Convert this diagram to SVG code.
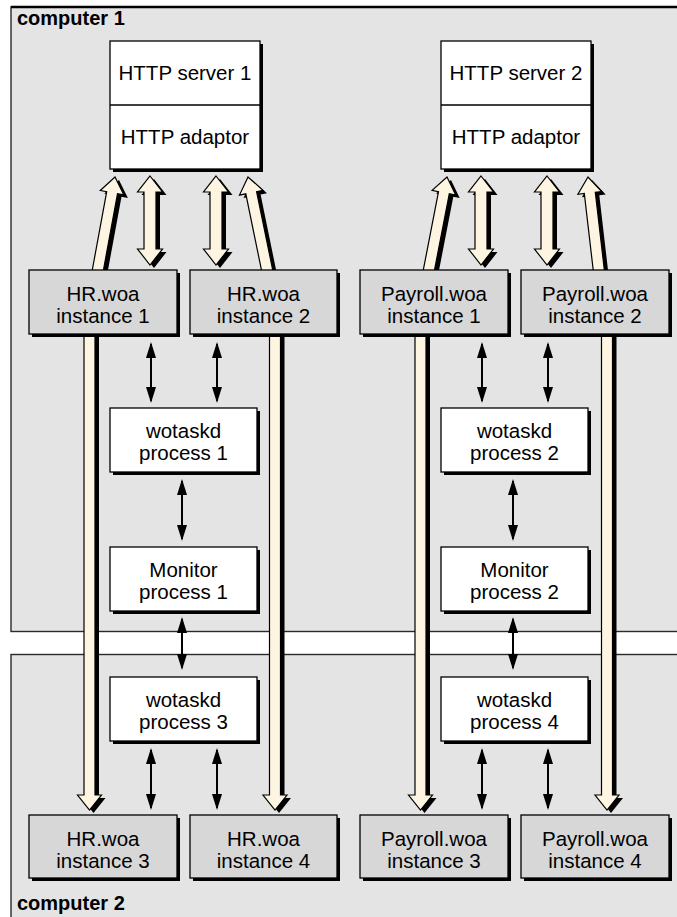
<svg xmlns="http://www.w3.org/2000/svg" xmlns:xlink="http://www.w3.org/1999/xlink" width="677" height="917" viewBox="0 0 677 917">
  <style>
    .machine { fill: #e4e4e4; stroke: #2a2a2a; stroke-width: 1.4; }
    .shadow { fill: #000; }
    .box { fill: #ffffff; stroke: #000; stroke-width: 1.3; }
    .inst { fill: #d7d7d7; stroke: #000; stroke-width: 1.3; }
    .lbl { font-family: "Liberation Sans", Arial, Helvetica, sans-serif; font-size: 20.5px; text-anchor: middle; fill: #000; }
    .title { font-family: "Liberation Sans", Arial, Helvetica, sans-serif; font-size: 20px; font-weight: bold; fill: #000; }
    .pipe { fill: #fdf5e1; stroke: #000; stroke-width: 1.2; stroke-linejoin: miter; }
    .link { stroke: #000; stroke-width: 2; fill: none; marker-start: url(#head); marker-end: url(#head); }
  </style>
  <defs>
    <marker id="head" viewBox="0 0 16 10" refX="14" refY="5" markerWidth="16" markerHeight="10" markerUnits="userSpaceOnUse" orient="auto-start-reverse">
      <path d="M0,0 L16,5 L0,10 z" fill="#000"/>
    </marker>
    <!-- two-way pipe between an instance and the adaptor, centred on x=0 -->
    <polygon id="dbl" points="0,176 12.5,192 6,192 6,249 12.5,249 0,265 -12.5,249 -6,249 -6,192 -12.5,192"/>
    <!-- slanted request pipes up to the adaptors -->
    <polygon id="upA" points="102.9,273 117.5,193.7 123.9,194.9 115,177 100.3,190.5 106.7,191.7 92.1,271"/>
    <polygon id="upB" points="272.9,270.9 256.6,191.6 263,190.3 248,177 239.5,195.1 245.8,193.8 262.1,273.1"/>
    <polygon id="upC" points="433.9,273.1 449.3,193.8 455.7,195 447,177 432.1,190.4 438.5,191.7 423.1,271"/>
    <polygon id="upD" points="604.5,271.4 595.3,192.3 601.7,191.5 588,177 577.9,194.3 584.3,193.5 593.5,272.6"/>
    <!-- long pipes down to the instances on computer 2 -->
    <polygon id="downA" points="84,333 95,333 95,795 101.5,795 89.5,810 77.5,795 84,795"/>
    <polygon id="downB" points="269.5,333 280.5,333 280.5,795 287,795 275,810 263,795 269.5,795"/>
    <polygon id="downC" points="415,333 426,333 426,795 432.5,795 420.5,810 408.5,795 415,795"/>
    <polygon id="downD" points="601.5,333 612.5,333 612.5,795 619,795 607,810 595,795 601.5,795"/>
  </defs>

  <rect x="0" y="0" width="677" height="917" fill="#ffffff"/>

  <!-- machines -->
  <g id="computer1">
    <rect class="machine" x="11" y="7" width="700" height="624.5"/>
    <line x1="11" y1="7" x2="677" y2="7" stroke="#000" stroke-width="2.6"/>
    <text class="title" x="17" y="25">computer 1</text>
  </g>
  <g id="computer2">
    <rect class="machine" x="11" y="654.5" width="700" height="300"/>
    <text class="title" x="17" y="910">computer 2</text>
  </g>

  <!-- connectors -->
  <g id="connectors">
    <g id="pipe-shadows" class="shadow" transform="translate(4,3)">
      <use xlink:href="#upA"/><use xlink:href="#upB"/><use xlink:href="#upC"/><use xlink:href="#upD"/>
      <use xlink:href="#downA"/><use xlink:href="#downB"/><use xlink:href="#downC"/><use xlink:href="#downD"/>
      <use xlink:href="#dbl" transform="translate(150,0)"/>
      <use xlink:href="#dbl" transform="translate(216,0)"/>
      <use xlink:href="#dbl" transform="translate(481,0)"/>
      <use xlink:href="#dbl" transform="translate(547,0)"/>
    </g>
    <g id="pipes" class="pipe">
      <use xlink:href="#upA"/><use xlink:href="#upB"/><use xlink:href="#upC"/><use xlink:href="#upD"/>
      <use xlink:href="#downA"/><use xlink:href="#downB"/><use xlink:href="#downC"/><use xlink:href="#downD"/>
      <use xlink:href="#dbl" transform="translate(150,0)"/>
      <use xlink:href="#dbl" transform="translate(216,0)"/>
      <use xlink:href="#dbl" transform="translate(481,0)"/>
      <use xlink:href="#dbl" transform="translate(547,0)"/>
    </g>
    <g id="links">
      <line class="link" x1="151" y1="344" x2="151" y2="401"/>
      <line class="link" x1="217" y1="344" x2="217" y2="401"/>
      <line class="link" x1="182" y1="481" x2="182" y2="539"/>
      <line class="link" x1="182" y1="619" x2="182" y2="668"/>
      <line class="link" x1="151" y1="750" x2="151" y2="808"/>
      <line class="link" x1="217" y1="750" x2="217" y2="808"/>
      <line class="link" x1="482" y1="344" x2="482" y2="401"/>
      <line class="link" x1="548" y1="344" x2="548" y2="401"/>
      <line class="link" x1="513" y1="481" x2="513" y2="539"/>
      <line class="link" x1="513" y1="619" x2="513" y2="668"/>
      <line class="link" x1="482" y1="750" x2="482" y2="808"/>
      <line class="link" x1="548" y1="750" x2="548" y2="808"/>
    </g>
  </g>

  <!-- web servers -->
  <g id="http1">
    <rect class="shadow" x="113" y="44" width="150" height="128"/>
    <rect class="box" x="110" y="41" width="150" height="128"/>
    <line x1="110" y1="105" x2="260" y2="105" stroke="#000" stroke-width="1.3"/>
    <text class="lbl" x="185" y="80">HTTP server 1</text>
    <text class="lbl" x="185" y="143.5">HTTP adaptor</text>
  </g>
  <g id="http2">
    <rect class="shadow" x="444" y="44" width="150" height="128"/>
    <rect class="box" x="441" y="41" width="150" height="128"/>
    <line x1="441" y1="105" x2="591" y2="105" stroke="#000" stroke-width="1.3"/>
    <text class="lbl" x="516" y="80">HTTP server 2</text>
    <text class="lbl" x="516" y="143.5">HTTP adaptor</text>
  </g>

  <!-- application instances -->
  <g id="hr1">
    <rect class="shadow" x="32" y="273" width="148" height="64"/>
    <rect class="inst" x="29" y="270" width="148" height="64"/>
    <text class="lbl" x="103" y="301">HR.woa</text>
    <text class="lbl" x="103" y="323">instance 1</text>
  </g>
  <g id="hr2">
    <rect class="shadow" x="193" y="273" width="147" height="64"/>
    <rect class="inst" x="190" y="270" width="147" height="64"/>
    <text class="lbl" x="263.5" y="301">HR.woa</text>
    <text class="lbl" x="263.5" y="323">instance 2</text>
  </g>
  <g id="payroll1">
    <rect class="shadow" x="363" y="273" width="148" height="64"/>
    <rect class="inst" x="360" y="270" width="148" height="64"/>
    <text class="lbl" x="434" y="301">Payroll.woa</text>
    <text class="lbl" x="434" y="323">instance 1</text>
  </g>
  <g id="payroll2">
    <rect class="shadow" x="524" y="273" width="148" height="64"/>
    <rect class="inst" x="521" y="270" width="148" height="64"/>
    <text class="lbl" x="595" y="301">Payroll.woa</text>
    <text class="lbl" x="595" y="323">instance 2</text>
  </g>
  <g id="hr3">
    <rect class="shadow" x="32" y="818" width="148" height="63"/>
    <rect class="inst" x="29" y="815" width="148" height="63"/>
    <text class="lbl" x="103" y="846">HR.woa</text>
    <text class="lbl" x="103" y="868">instance 3</text>
  </g>
  <g id="hr4">
    <rect class="shadow" x="193" y="818" width="147" height="63"/>
    <rect class="inst" x="190" y="815" width="147" height="63"/>
    <text class="lbl" x="263.5" y="846">HR.woa</text>
    <text class="lbl" x="263.5" y="868">instance 4</text>
  </g>
  <g id="payroll3">
    <rect class="shadow" x="363" y="818" width="148" height="63"/>
    <rect class="inst" x="360" y="815" width="148" height="63"/>
    <text class="lbl" x="434" y="846">Payroll.woa</text>
    <text class="lbl" x="434" y="868">instance 3</text>
  </g>
  <g id="payroll4">
    <rect class="shadow" x="524" y="818" width="148" height="63"/>
    <rect class="inst" x="521" y="815" width="148" height="63"/>
    <text class="lbl" x="595" y="846">Payroll.woa</text>
    <text class="lbl" x="595" y="868">instance 4</text>
  </g>

  <!-- daemons and monitors -->
  <g id="wotaskd1">
    <rect class="shadow" x="113" y="411" width="147" height="64"/>
    <rect class="box" x="110" y="408" width="147" height="64"/>
    <text class="lbl" x="183.5" y="438">wotaskd</text>
    <text class="lbl" x="183.5" y="460">process 1</text>
  </g>
  <g id="monitor1">
    <rect class="shadow" x="113" y="550" width="147" height="64"/>
    <rect class="box" x="110" y="547" width="147" height="64"/>
    <text class="lbl" x="183.5" y="577">Monitor</text>
    <text class="lbl" x="183.5" y="599">process 1</text>
  </g>
  <g id="wotaskd3">
    <rect class="shadow" x="113" y="680" width="147" height="64"/>
    <rect class="box" x="110" y="677" width="147" height="64"/>
    <text class="lbl" x="183.5" y="707">wotaskd</text>
    <text class="lbl" x="183.5" y="729">process 3</text>
  </g>
  <g id="wotaskd2">
    <rect class="shadow" x="444" y="411" width="147" height="64"/>
    <rect class="box" x="441" y="408" width="147" height="64"/>
    <text class="lbl" x="514.5" y="438">wotaskd</text>
    <text class="lbl" x="514.5" y="460">process 2</text>
  </g>
  <g id="monitor2">
    <rect class="shadow" x="444" y="550" width="147" height="64"/>
    <rect class="box" x="441" y="547" width="147" height="64"/>
    <text class="lbl" x="514.5" y="577">Monitor</text>
    <text class="lbl" x="514.5" y="599">process 2</text>
  </g>
  <g id="wotaskd4">
    <rect class="shadow" x="444" y="680" width="147" height="64"/>
    <rect class="box" x="441" y="677" width="147" height="64"/>
    <text class="lbl" x="514.5" y="707">wotaskd</text>
    <text class="lbl" x="514.5" y="729">process 4</text>
  </g>
</svg>
